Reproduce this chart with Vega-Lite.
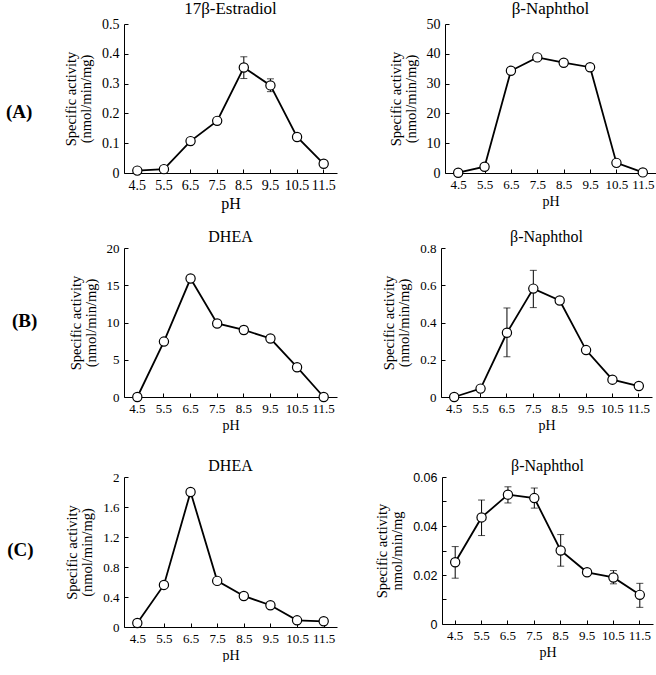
{
  "$schema": "https://vega.github.io/schema/vega-lite/v6.json",
  "background": "white",
  "padding": {"left": 5, "top": 0, "right": 0, "bottom": 0},
  "config": {
    "view": {"stroke": null},
    "font": "Liberation Serif",
    "title": {"font": "Liberation Serif", "fontSize": 16, "fontWeight": "normal", "color": "black", "offset": -3},
    "axis": {
      "grid": false,
      "domainColor": "black",
      "domainWidth": 1,
      "tickColor": "black",
      "tickSize": -4,
      "labelPadding": 9,
      "labelColor": "black",
      "titleColor": "black",
      "labelFont": "Liberation Serif",
      "titleFont": "Liberation Serif",
      "titleFontWeight": "normal",
      "labelFontSize": 13,
      "titleFontSize": 14.5,
      "titleLineHeight": 15
    },
    "axisX": {"labelAngle": 0, "titleFontSize": 14, "titlePadding": 3},
    "axisY": {"titlePadding": 8, "format": "~r"}
  },
  "datasets": {
    "a1": [
      {"pH": 4.5, "v": 0.008}, {"pH": 5.5, "v": 0.013}, {"pH": 6.5, "v": 0.107},
      {"pH": 7.5, "v": 0.175, "lo": 0.167, "hi": 0.183},
      {"pH": 8.5, "v": 0.354, "lo": 0.317, "hi": 0.39},
      {"pH": 9.5, "v": 0.294, "lo": 0.273, "hi": 0.316},
      {"pH": 10.5, "v": 0.121}, {"pH": 11.5, "v": 0.031}
    ],
    "a2": [
      {"pH": 4.5, "v": 0.1}, {"pH": 5.5, "v": 2.1}, {"pH": 6.5, "v": 34.3}, {"pH": 7.5, "v": 38.8},
      {"pH": 8.5, "v": 37.0}, {"pH": 9.5, "v": 35.5}, {"pH": 10.5, "v": 3.4}, {"pH": 11.5, "v": 0.2}
    ],
    "b1": [
      {"pH": 4.5, "v": 0}, {"pH": 5.5, "v": 7.44}, {"pH": 6.5, "v": 15.9}, {"pH": 7.5, "v": 9.87},
      {"pH": 8.5, "v": 9.0, "lo": 8.5, "hi": 9.5}, {"pH": 9.5, "v": 7.85}, {"pH": 10.5, "v": 4.0}, {"pH": 11.5, "v": 0}
    ],
    "b2": [
      {"pH": 4.5, "v": 0}, {"pH": 5.5, "v": 0.045},
      {"pH": 6.5, "v": 0.345, "lo": 0.216, "hi": 0.478},
      {"pH": 7.5, "v": 0.582, "lo": 0.48, "hi": 0.68},
      {"pH": 8.5, "v": 0.518}, {"pH": 9.5, "v": 0.252}, {"pH": 10.5, "v": 0.093}, {"pH": 11.5, "v": 0.059}
    ],
    "c1": [
      {"pH": 4.5, "v": 0.053}, {"pH": 5.5, "v": 0.561}, {"pH": 6.5, "v": 1.8}, {"pH": 7.5, "v": 0.615},
      {"pH": 8.5, "v": 0.414}, {"pH": 9.5, "v": 0.29}, {"pH": 10.5, "v": 0.089}, {"pH": 11.5, "v": 0.076}
    ],
    "c2": [
      {"pH": 4.5, "v": 0.0252, "lo": 0.0187, "hi": 0.0316},
      {"pH": 5.5, "v": 0.0435, "lo": 0.0361, "hi": 0.0506},
      {"pH": 6.5, "v": 0.0528, "lo": 0.0494, "hi": 0.056},
      {"pH": 7.5, "v": 0.0514, "lo": 0.0473, "hi": 0.0555},
      {"pH": 8.5, "v": 0.03, "lo": 0.0236, "hi": 0.0365},
      {"pH": 9.5, "v": 0.0211},
      {"pH": 10.5, "v": 0.019, "lo": 0.0164, "hi": 0.0218},
      {"pH": 11.5, "v": 0.0119, "lo": 0.0068, "hi": 0.0166}
    ]
  },
  "spacing": 18,
  "vconcat": [
    {
      "title": {"text": "(A)", "orient": "left", "angle": 0, "fontWeight": "bold", "fontSize": 19, "anchor": "middle", "offset": 18, "baseline": "middle", "dy": 6},
      "spacing": 51,
      "hconcat": [
        {
          "title": {"text": "17β-Estradiol", "fontSize": 17, "offset": -1},
          "width": 213, "height": 149,
          "data": {"name": "a1"},
          "encoding": {
            "x": {"field": "pH", "type": "ordinal", "scale": {"paddingInner": 0, "paddingOuter": 0}, "axis": {"labelFontSize": 14, "titleFontSize": 16}},
            "y": {"field": "v", "type": "quantitative", "scale": {"domain": [0, 0.5], "nice": false}, "axis": {"values": [0, 0.1, 0.2, 0.3, 0.4, 0.5], "labelFontSize": 14, "title": ["Specific activity", "(nmol/min/mg)"]}}
          },
          "layer": [
            {"transform": [{"filter": "isValid(datum.lo)"}], "mark": {"type": "errorbar", "ticks": {"size": 7}, "color": "black", "thickness": 1}, "encoding": {"y": {"field": "lo", "type": "quantitative"}, "y2": {"field": "hi"}}},
            {"mark": {"type": "line", "color": "black", "strokeWidth": 1.8}},
            {"mark": {"type": "point", "shape": "circle", "filled": true, "fill": "white", "stroke": "black", "strokeWidth": 1.2, "size": 85, "opacity": 1}}
          ]
        },
        {
          "title": {"text": "β-Naphthol", "fontSize": 17, "offset": -1},
          "width": 211, "height": 149,
          "data": {"name": "a2"},
          "encoding": {
            "x": {"field": "pH", "type": "ordinal", "scale": {"paddingInner": 0, "paddingOuter": 0}},
            "y": {"field": "v", "type": "quantitative", "scale": {"domain": [0, 50], "nice": false}, "axis": {"values": [0, 10, 20, 30, 40, 50], "labelFontSize": 14, "title": ["Specific activity", "(nmol/min/mg)"]}}
          },
          "layer": [
            {"mark": {"type": "line", "color": "black", "strokeWidth": 1.8}},
            {"mark": {"type": "point", "shape": "circle", "filled": true, "fill": "white", "stroke": "black", "strokeWidth": 1.2, "size": 85, "opacity": 1}}
          ]
        }
      ]
    },
    {
      "spacing": 26,
      "vconcat": [
        {
          "title": {"text": "(B)", "orient": "left", "angle": 0, "fontWeight": "bold", "fontSize": 19, "anchor": "middle", "offset": 18, "baseline": "middle", "dy": -10},
          "spacing": 44,
          "hconcat": [
            {
              "title": "DHEA",
              "width": 213, "height": 149,
              "data": {"name": "b1"},
              "encoding": {
                "x": {"field": "pH", "type": "ordinal", "scale": {"paddingInner": 0, "paddingOuter": 0}},
                "y": {"field": "v", "type": "quantitative", "scale": {"domain": [0, 20], "nice": false}, "axis": {"values": [0, 5, 10, 15, 20], "title": ["Specific activity", "(nmol/min/mg)"]}}
              },
              "layer": [
                {"transform": [{"filter": "isValid(datum.lo)"}], "mark": {"type": "errorbar", "ticks": {"size": 7}, "color": "black", "thickness": 1}, "encoding": {"y": {"field": "lo", "type": "quantitative"}, "y2": {"field": "hi"}}},
                {"mark": {"type": "line", "color": "black", "strokeWidth": 1.8}},
                {"mark": {"type": "point", "shape": "circle", "filled": true, "fill": "white", "stroke": "black", "strokeWidth": 1.2, "size": 85, "opacity": 1}}
              ]
            },
            {
              "title": "β-Naphthol",
              "width": 211, "height": 149,
              "data": {"name": "b2"},
              "encoding": {
                "x": {"field": "pH", "type": "ordinal", "scale": {"paddingInner": 0, "paddingOuter": 0}},
                "y": {"field": "v", "type": "quantitative", "scale": {"domain": [0, 0.8], "nice": false}, "axis": {"values": [0, 0.2, 0.4, 0.6, 0.8], "title": ["Specific activity", "(nmol/min/mg)"]}}
              },
              "layer": [
                {"transform": [{"filter": "isValid(datum.lo)"}], "mark": {"type": "errorbar", "ticks": {"size": 7}, "color": "black", "thickness": 1}, "encoding": {"y": {"field": "lo", "type": "quantitative"}, "y2": {"field": "hi"}}},
                {"mark": {"type": "line", "color": "black", "strokeWidth": 1.8}},
                {"mark": {"type": "point", "shape": "circle", "filled": true, "fill": "white", "stroke": "black", "strokeWidth": 1.2, "size": 85, "opacity": 1}}
              ]
            }
          ]
        },
        {
          "title": {"text": "(C)", "orient": "left", "angle": 0, "fontWeight": "bold", "fontSize": 19, "anchor": "middle", "offset": 18, "baseline": "middle", "dy": -10},
          "spacing": 37,
          "hconcat": [
            {
              "title": "DHEA",
              "width": 213, "height": 150,
              "data": {"name": "c1"},
              "encoding": {
                "x": {"field": "pH", "type": "ordinal", "scale": {"paddingInner": 0, "paddingOuter": 0}},
                "y": {"field": "v", "type": "quantitative", "scale": {"domain": [0, 2], "nice": false}, "axis": {"values": [0, 0.4, 0.8, 1.2, 1.6, 2], "title": ["Specific activity", "(nmol/min/mg)"]}}
              },
              "layer": [
                {"mark": {"type": "line", "color": "black", "strokeWidth": 1.8}},
                {"mark": {"type": "point", "shape": "circle", "filled": true, "fill": "white", "stroke": "black", "strokeWidth": 1.2, "size": 85, "opacity": 1}}
              ]
            },
            {
              "title": "β-Naphthol",
              "width": 211, "height": 147,
              "data": {"name": "c2"},
              "encoding": {
                "x": {"field": "pH", "type": "ordinal", "scale": {"paddingInner": 0, "paddingOuter": 0}},
                "y": {"field": "v", "type": "quantitative", "scale": {"domain": [0, 0.06], "nice": false}, "axis": {"values": [0, 0.01, 0.02, 0.03, 0.04, 0.05, 0.06], "labelExpr": "datum.value == 0 ? '0' : (round(datum.value * 100) % 2 == 0 ? format(datum.value, '.2f') : '')", "labelFont": "Liberation Sans", "labelFontSize": 12.5, "title": ["Specific activity", "nmol/min/mg"]}}
              },
              "layer": [
                {"transform": [{"filter": "isValid(datum.lo)"}], "mark": {"type": "errorbar", "ticks": {"size": 7}, "color": "black", "thickness": 1}, "encoding": {"y": {"field": "lo", "type": "quantitative"}, "y2": {"field": "hi"}}},
                {"mark": {"type": "line", "color": "black", "strokeWidth": 1.8}},
                {"mark": {"type": "point", "shape": "circle", "filled": true, "fill": "white", "stroke": "black", "strokeWidth": 1.2, "size": 85, "opacity": 1}}
              ]
            }
          ]
        }
      ]
    }
  ]
}
